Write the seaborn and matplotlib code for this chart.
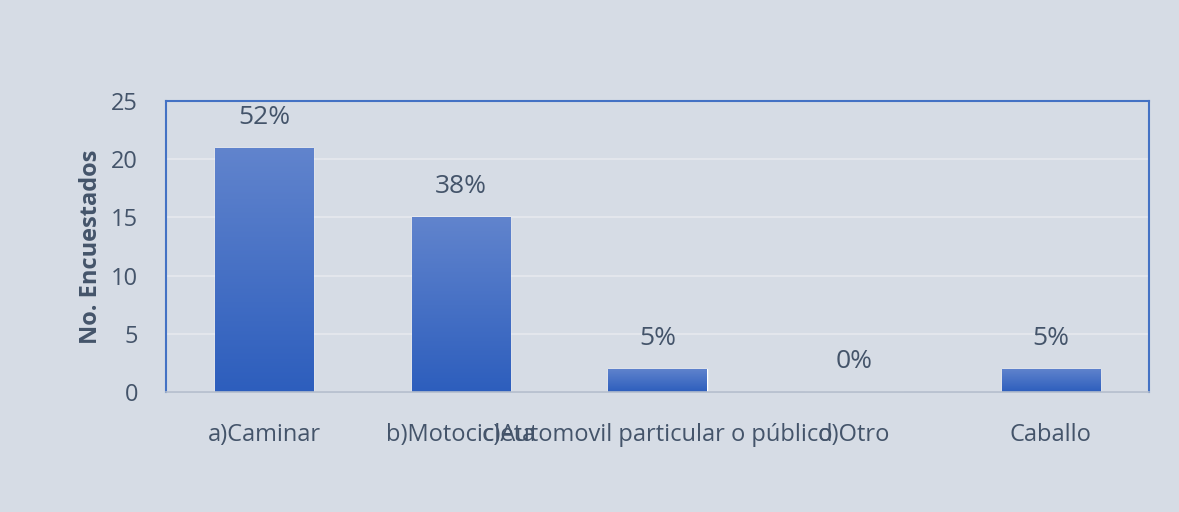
import numpy as np
import pandas as pd
import matplotlib
matplotlib.use("Agg")
import matplotlib.pyplot as plt
import seaborn as sns

# datos de la grafica
categorias = ["a)Caminar", "b)Motocicleta", "c)Automovil particular o público", "d)Otro", "Caballo"]
encuestados = [21, 15, 2, 0, 2]

fondo = "#D6DCE5"
texto = "#44546A"

sns.set_theme(style="white")
plt.rcParams["font.family"] = ["Open Sans", "DejaVu Sans"]

df = pd.DataFrame({"medio": categorias, "n": encuestados})
total = sum(encuestados)

fig = plt.figure(figsize=(11.79, 5.12), dpi=100, facecolor=fondo)
ax = fig.add_axes([0.1408, 0.2344, 0.8338, 0.5683], facecolor=fondo)

sns.barplot(data=df, x="medio", y="n", color="#3A67C4", width=0.5, ax=ax, saturation=1)

# degradado en las barras
grad = np.linspace(0, 1, 256).reshape(-1, 1)
cmap = matplotlib.colors.LinearSegmentedColormap.from_list("g", ["#2D5EBD", "#6184CD"])
for p in ax.patches:
    x0, y0 = p.get_x(), p.get_y()
    w, h = p.get_width(), p.get_height()
    if h <= 0:
        continue
    im = ax.imshow(grad, cmap=cmap, origin="lower", aspect="auto",
                   extent=[x0, x0 + w, y0, y0 + h], zorder=p.get_zorder() + 0.1)
    im.set_clip_path(p)

ax.set_xlim(-0.5, len(categorias) - 0.5)
ax.set_ylim(0, 25)
ax.set_yticks([0, 5, 10, 15, 20, 25])
ax.yaxis.grid(True, color="#E6E9EE", linewidth=1.2)
ax.set_axisbelow(True)

for i, v in enumerate(encuestados):
    ax.annotate(f"{round(100 * v / total):.0f}%", (i, v), xytext=(0, 22),
                textcoords="offset points", ha="center", va="center",
                fontsize=19, color=texto)

for lado in ["left", "top", "right"]:
    ax.spines[lado].set_color("#4472C4")
    ax.spines[lado].set_linewidth(1.5)
ax.spines["bottom"].set_color("#B4BDCC")
ax.spines["bottom"].set_linewidth(1.2)

ax.tick_params(axis="both", length=0, labelsize=17, colors=texto)
ax.tick_params(axis="x", pad=22)
ax.tick_params(axis="y", pad=20)
ax.set_xlabel("")
ax.set_ylabel("No. Encuestados", fontsize=17, fontweight="bold", color=texto, labelpad=6)

fig.savefig("out.png", dpi=100, facecolor=fondo)
